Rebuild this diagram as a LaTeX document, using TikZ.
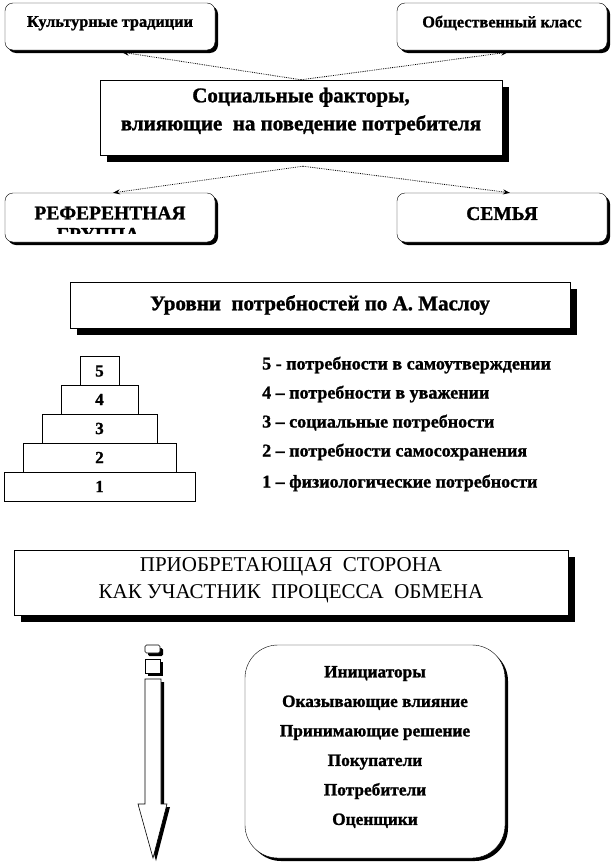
\documentclass[tikz,border=0pt]{standalone}
\usepackage{fontspec}
\setmainfont{Liberation Serif}[BoldFeatures={FakeBold=1.2}]
\usetikzlibrary{shadows,arrows.meta,calc}
\begin{document}
\begin{tikzpicture}[x=1pt,y=-1pt,
  box/.style={draw, fill=white, rounded corners=8pt, inner sep=0pt, align=center,
    font=\bfseries\fontsize{16.3}{20}\selectfont,
    drop shadow={shadow xshift=3pt, shadow yshift=-3pt, fill=black, opacity=1}},
  capfont/.style={font=\bfseries\fontsize{19.5}{22}\selectfont},
  bigbox/.style={draw, fill=white, inner sep=0pt, align=center,
    drop shadow={shadow xshift=7pt, shadow yshift=-7pt, fill=black, opacity=1}},
  link/.style={densely dotted, line width=0.8pt, -{Stealth[length=7pt,width=5pt]}},
  lvl/.style={draw, fill=white, line width=0.6pt, inner sep=0pt, minimum height=29pt,
    font=\bfseries\fontsize{17}{19}\selectfont},
  item/.style={anchor=west, inner sep=0pt, font=\bfseries\fontsize{18}{20}\selectfont},
]
\useasboundingbox (0,0) rectangle (613,862);

% top row
\node[box, minimum width=210pt, minimum height=47pt, text depth=10pt] (kt) at (110,26.5) {Культурные традиции};
\node[box, minimum width=210pt, minimum height=47pt, text depth=10pt] (ok) at (502,26.5) {Общественный класс};
\node[bigbox, minimum width=402pt, minimum height=75pt, text depth=17pt,
  font=\bfseries\fontsize{21}{28}\selectfont] (sf) at (301,117.5)
  {Социальные факторы,\\влияющие\ \ на поведение потребителя};
\draw[link] (sf.north) -- ($(kt.south)+(12,2)$);
\draw[link] (sf.north) -- ($(ok.south)+(6,2)$);

% second row
\node[box, minimum width=210pt, minimum height=49pt] (rg) at (110,217.5) {};
\node[capfont, inner sep=0pt] (rgt) at (110,213) {РЕФЕРЕНТНАЯ};
\begin{scope}
  \clip (0,200) rectangle (613,233);
  \node[capfont, inner sep=0pt] (rgt2) at (98,234.5) {ГРУППА};
\end{scope}
\node[box, capfont, minimum width=210pt, minimum height=49pt, text depth=8pt] (sm) at (502,217.5) {СЕМЬЯ};
\coordinate (sfb) at ($(sf.south)+(2,11)$);
\draw[link] (sfb) -- ($(rg.north)+(3,0)$);
\draw[link] (sfb) -- ($(sm.north)+(8,0)$);

% Maslow
\node[bigbox, minimum width=500pt, minimum height=46pt,
  font=\bfseries\fontsize{21}{24}\selectfont] (ml) at (320,305) {Уровни\ \ потребностей по А. Маслоу};

\node[lvl, minimum width=39pt]  (l5) at (99.5,371)   {5};
\node[lvl, minimum width=77pt]  (l4) at (99.5,399.5) {4};
\node[lvl, minimum width=115pt] (l3) at (99.5,428.5) {3};
\node[lvl, minimum width=153pt] (l2) at (99.5,457.5) {2};
\node[lvl, minimum width=191pt] (l1) at (99.5,486.5) {1};

\node[item] (i5) at (262,365) {5 - потребности в самоутверждении};
\node[item] (i4) at (262,394) {4 – потребности в уважении};
\node[item] (i3) at (262,423) {3 – социальные потребности};
\node[item] (i2) at (262,452) {2 – потребности самосохранения};
\node[item] (i1) at (262,483) {1 – физиологические потребности};

% buyer side
\node[bigbox, minimum width=554pt, minimum height=65pt, text depth=8pt,
  font=\fontsize{21}{27}\selectfont] (pb) at (291,582.5)
  {ПРИОБРЕТАЮЩАЯ\ \ СТОРОНА\\КАК УЧАСТНИК\ \ ПРОЦЕССА\ \ ОБМЕНА};

% big arrow
\begin{scope}[shift={(3,3)}]
  \fill[black, rounded corners=1.5pt] (145,645) rectangle (160,653);
  \fill[black] (145,659) rectangle (160,673);
  \fill[black] (145,679) -- (161,679) -- (161,804) -- (167,804) -- (153,858) -- (138,804) -- (145,804) -- cycle;
\end{scope}
\draw[fill=white, line width=0.6pt, rounded corners=1.5pt] (145,645) rectangle (160,653);
\draw[fill=white, line width=0.6pt] (145,659) rectangle (160,673);
\draw[fill=white, line width=0.6pt] (145,679) -- (161,679) -- (161,804) -- (167,804) -- (153,858) -- (138,804) -- (145,804) -- cycle;

\node[draw, fill=white, rounded corners=33pt, minimum width=260pt, minimum height=213pt,
  inner sep=0pt, align=center, text depth=12pt, font=\bfseries\fontsize{17.3}{29.5}\selectfont,
  drop shadow={shadow xshift=3pt, shadow yshift=-3pt, fill=black, opacity=1}] (rl) at (375,751.5)
  {Инициаторы\\Оказывающие влияние\\Принимающие решение\\Покупатели\\Потребители\\Оценщики};
\end{tikzpicture}
\end{document}
